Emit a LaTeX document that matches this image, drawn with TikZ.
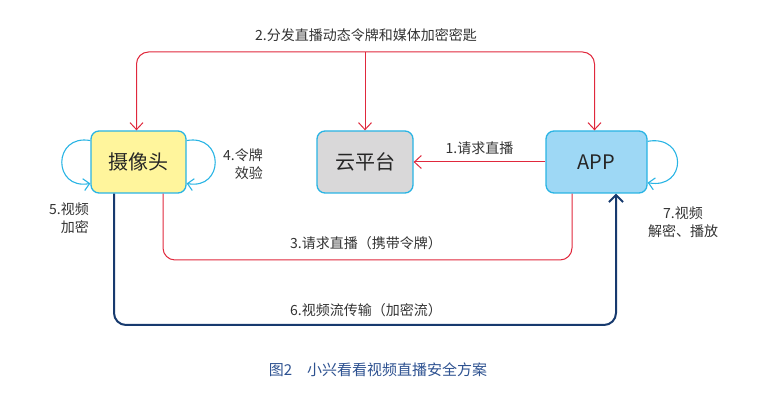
\documentclass[tikz,border=0pt]{standalone}
\usepackage{fontspec}
\setmainfont{Noto Sans CJK SC}
\usetikzlibrary{arrows.meta}
\definecolor{boxline}{HTML}{29B4E4}
\definecolor{camfill}{HTML}{FFF59C}
\definecolor{cloudfill}{HTML}{D9D8D9}
\definecolor{appfill}{HTML}{9ED8F5}
\definecolor{redline}{HTML}{E0283C}
\definecolor{blueline}{HTML}{173A6E}
\definecolor{captext}{HTML}{2D5190}
\definecolor{labtext}{HTML}{333333}
\begin{document}
\begin{tikzpicture}[x=1pt,y=1pt,
  box/.style={draw=boxline,line width=1.3pt,rounded corners=8pt,minimum height=62pt,font=\fontsize{20}{24}\selectfont,text=black!85},
  req/.style={draw=redline,line width=1pt,rounded corners=12pt},
  flow/.style={draw=blueline,line width=2pt,rounded corners=12pt},
  self/.style={draw=boxline,line width=1.1pt,-{Straight Barb[length=6pt,width=12pt]}},
  tip/.style={-{Straight Barb[length=7pt,width=13pt]}},
  lab/.style={font=\fontsize{14}{18}\selectfont,text=labtext,inner sep=0pt}]

  \useasboundingbox (0,0) rectangle (765,403);

  \node[box,fill=camfill,minimum width=95pt] (cam) at (138.5,241) {摄像头};
  \node[box,fill=cloudfill,minimum width=96pt] (cloud) at (365,241) {云平台};
  \node[box,fill=appfill,minimum width=101pt] (app) at (596.5,241) {APP};

  \coordinate (top) at (365,351);
  \coordinate (mid) at (365,143);
  \coordinate (low) at (365,78);

  % 2
  \draw[req,{Straight Barb[length=7pt,width=13pt]}-{Straight Barb[length=7pt,width=13pt]}]
    ([xshift=-2pt]cam.north) -- ([xshift=-2pt]cam.north |- top) -- ([xshift=-2pt]app.north |- top) -- ([xshift=-2pt]app.north);
  \draw[req,tip] (top) -- (cloud.north);
  % 1
  \draw[req,tip] (app.west) -- node[lab,above=7pt]{1.请求直播} (cloud.east);
  % 3
  \draw[req] ([xshift=24.5pt]cam.south) -- ([xshift=24.5pt]cam.south |- mid) -- ([xshift=-24.5pt]app.south |- mid) -- ([xshift=-24.5pt]app.south);
  % 6
  \draw[flow,-{Straight Barb[length=7pt,width=14pt]}] ([xshift=-24.5pt]cam.south) -- ([xshift=-24.5pt]cam.south |- low) -- ([xshift=19.5pt]app.south |- low) -- ([xshift=19.5pt]app.south);

  % self loops
  \draw[self] (cam.156) to[out=170,in=190,looseness=2.3] (cam.204);
  \draw[self] (cam.24) to[out=10,in=-10,looseness=2.3] (cam.-24);
  \draw[self] (app.22) to[out=10,in=-10,looseness=2.5] (app.-22);

  \node[lab] at (366,368) {2.分发直播动态令牌和媒体加密密匙};
  \node[lab] at (366,160) {3.请求直播（携带令牌）};
  \node[lab] at (366,93) {6.视频流传输（加密流）};
  \node[lab,anchor=east,align=right] at (263,239) {4.令牌\\效验};
  \node[lab,anchor=east,align=right] at (89,185) {5.视频\\加密};
  \node[lab,align=center] at (683,181) {7.视频\\解密、播放};
  \node[font=\fontsize{15}{18}\selectfont,text=captext,inner sep=0pt] (cap) at (378,33) {图2\quad 小兴看看视频直播安全方案};
\end{tikzpicture}
\end{document}
